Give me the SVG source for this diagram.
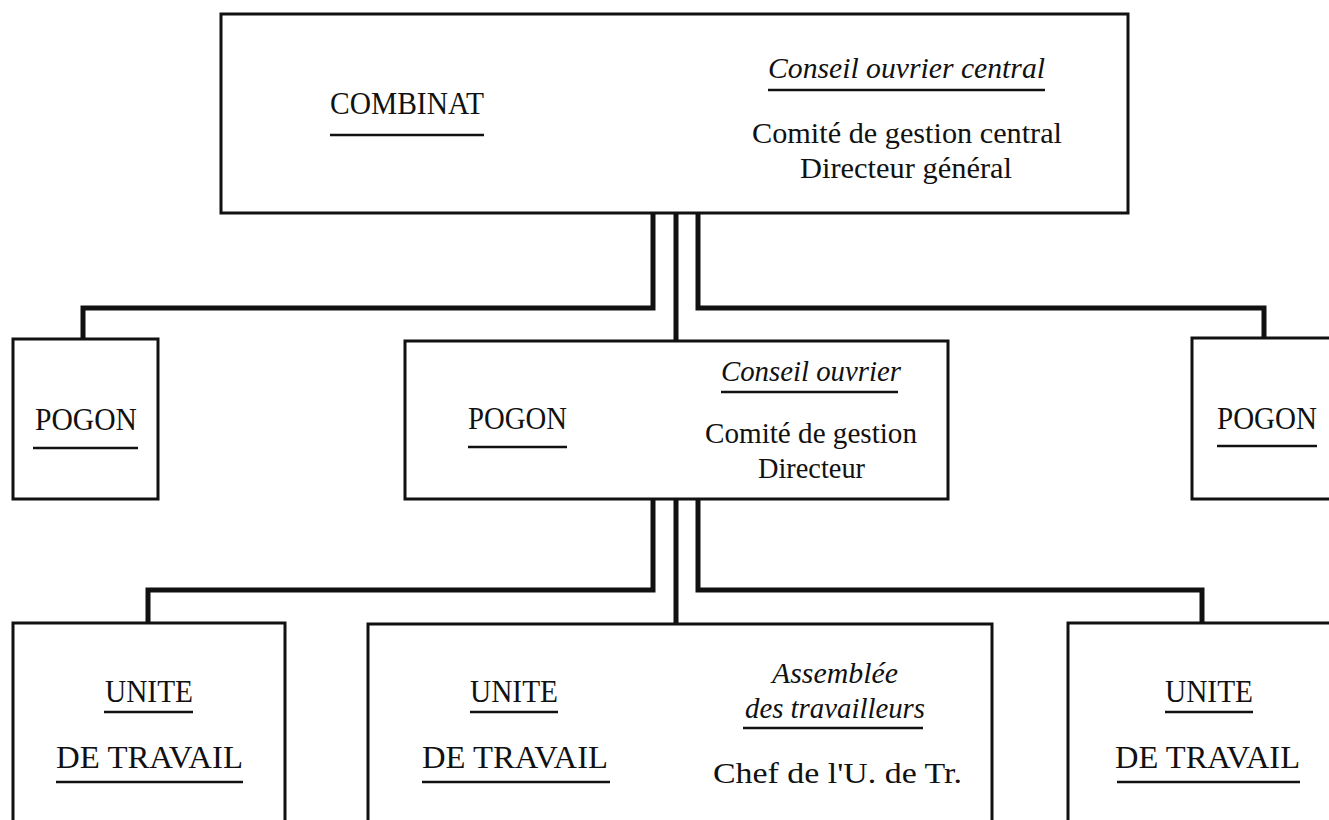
<svg xmlns="http://www.w3.org/2000/svg" width="1329" height="820" viewBox="0 0 1329 820">
<style>
.box{fill:#fff;stroke:#111;stroke-width:3}
.con{fill:none;stroke:#111;stroke-width:5;stroke-linejoin:miter;stroke-linecap:square}
.ul{stroke:#111;stroke-width:2.5}
text{font-family:"Liberation Serif","Times New Roman",serif;fill:#111}
.cap{font-size:31px}
.reg{font-size:29px}
.it{font-size:29px;font-style:italic}
</style>
<rect width="1329" height="820" fill="#fff"/>
<g id="connectors">
  <path class="con" d="M653,213 V308 H83 V339"/>
  <path class="con" d="M676,213 V340"/>
  <path class="con" d="M698,213 V308 H1264 V338"/>
  <path class="con" d="M653,500 V590 H148 V623"/>
  <path class="con" d="M676,500 V624"/>
  <path class="con" d="M698,500 V590 H1202 V623"/>
</g>
<g id="combinat">
  <rect class="box" x="221" y="14" width="907" height="199"/>
  <text class="cap" x="330" y="114" textLength="154" lengthAdjust="spacingAndGlyphs">COMBINAT</text>
  <line class="ul" x1="330" y1="135" x2="484" y2="135"/>
  <text class="it" x="768" y="78" textLength="277" lengthAdjust="spacingAndGlyphs">Conseil ouvrier central</text>
  <line class="ul" x1="768" y1="90" x2="1045" y2="90"/>
  <text class="reg" x="752" y="143" textLength="310" lengthAdjust="spacingAndGlyphs">Comité de gestion central</text>
  <text class="reg" x="800" y="178" textLength="212" lengthAdjust="spacingAndGlyphs">Directeur général</text>
</g>
<g id="pogon-left">
  <rect class="box" x="13" y="339" width="145" height="160"/>
  <text class="cap" x="35" y="430" textLength="102" lengthAdjust="spacingAndGlyphs">POGON</text>
  <line class="ul" x1="33" y1="448" x2="138" y2="448"/>
</g>
<g id="pogon-center">
  <rect class="box" x="405" y="341" width="543" height="158"/>
  <text class="cap" x="468" y="429" textLength="99" lengthAdjust="spacingAndGlyphs">POGON</text>
  <line class="ul" x1="468" y1="447" x2="567" y2="447"/>
  <text class="it" x="721" y="381" textLength="180" lengthAdjust="spacingAndGlyphs">Conseil ouvrier</text>
  <line class="ul" x1="721" y1="392" x2="898" y2="392"/>
  <text class="reg" x="705" y="443" textLength="212" lengthAdjust="spacingAndGlyphs">Comité de gestion</text>
  <text class="reg" x="758" y="478" textLength="107" lengthAdjust="spacingAndGlyphs">Directeur</text>
</g>
<g id="pogon-right">
  <rect class="box" x="1192" y="338" width="150" height="161"/>
  <text class="cap" x="1217" y="429" textLength="100" lengthAdjust="spacingAndGlyphs">POGON</text>
  <line class="ul" x1="1217" y1="446" x2="1317" y2="446"/>
</g>
<g id="unite-left">
  <rect class="box" x="13" y="623" width="272" height="220"/>
  <text class="cap" x="105" y="702" textLength="88" lengthAdjust="spacingAndGlyphs">UNITE</text>
  <line class="ul" x1="104" y1="712" x2="193" y2="712"/>
  <text class="cap" x="56" y="768" textLength="187" lengthAdjust="spacingAndGlyphs">DE TRAVAIL</text>
  <line class="ul" x1="56" y1="782" x2="243" y2="782"/>
</g>
<g id="unite-center">
  <rect class="box" x="368" y="624" width="624" height="220"/>
  <text class="cap" x="470" y="702" textLength="88" lengthAdjust="spacingAndGlyphs">UNITE</text>
  <line class="ul" x1="470" y1="712" x2="558" y2="712"/>
  <text class="cap" x="422" y="768" textLength="186" lengthAdjust="spacingAndGlyphs">DE TRAVAIL</text>
  <line class="ul" x1="422" y1="782" x2="610" y2="782"/>
  <text class="it" x="772" y="683" textLength="126" lengthAdjust="spacingAndGlyphs">Assemblée</text>
  <text class="it" x="745" y="718" textLength="180" lengthAdjust="spacingAndGlyphs">des travailleurs</text>
  <line class="ul" x1="743" y1="728" x2="923" y2="728"/>
  <text class="reg" x="713" y="783" textLength="249" lengthAdjust="spacingAndGlyphs">Chef de l'U. de Tr.</text>
</g>
<g id="unite-right">
  <rect class="box" x="1068" y="623" width="280" height="220"/>
  <text class="cap" x="1165" y="702" textLength="88" lengthAdjust="spacingAndGlyphs">UNITE</text>
  <line class="ul" x1="1165" y1="712" x2="1253" y2="712"/>
  <text class="cap" x="1115" y="768" textLength="185" lengthAdjust="spacingAndGlyphs">DE TRAVAIL</text>
  <line class="ul" x1="1117" y1="782" x2="1300" y2="782"/>
</g>
</svg>
